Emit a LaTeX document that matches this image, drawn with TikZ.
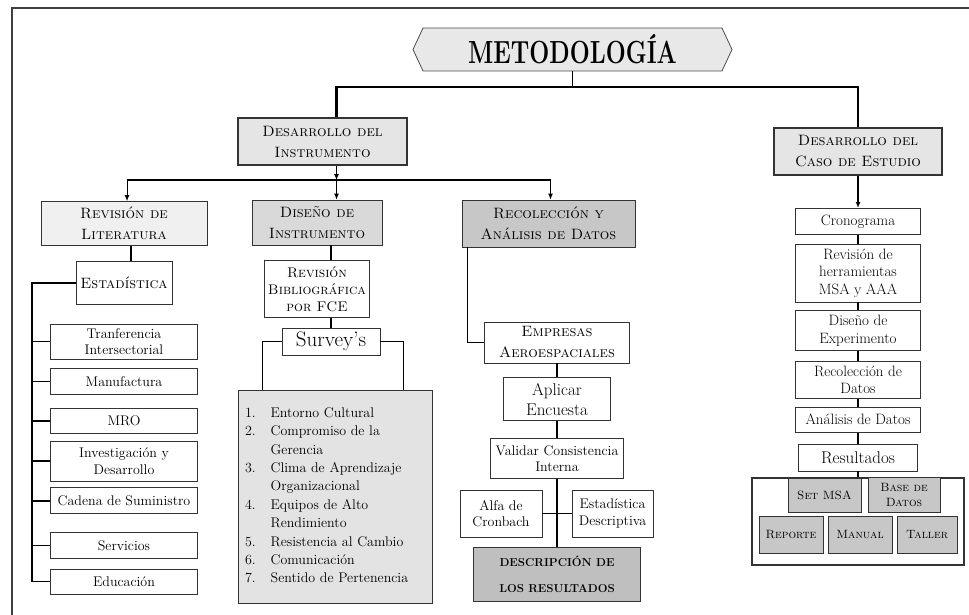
\documentclass[tikz,border=0pt]{standalone}
\usepackage{tikz}
\usetikzlibrary{arrows.meta}
\usetikzlibrary{positioning}
\usetikzlibrary{shapes.symbols}

\begin{document}
\begin{tikzpicture}[x=1pt,y=-1pt]
  \tikzset{node distance=10pt,
           basicbox/.style={draw=black!80,line width=0.7pt,fill=white,align=center,inner sep=1pt,
                            minimum width=#1,font=\fontsize{14}{16.5}\selectfont},
           stepbox/.style={basicbox=#1,font=\fontsize{15}{17.5}\selectfont},
           headbox/.style={basicbox=#1,font=\fontsize{15}{21}\selectfont\scshape},
           itembox/.style={basicbox=#1,fill=black!22,line width=0.9pt,minimum height=35pt,
                           font=\fontsize{12}{15}\selectfont\scshape},
           trunk/.style={line width=2.4pt},
           link/.style={line width=1.6pt},
           usedby/.style={-{Latex[length=6pt,width=5pt]},line width=1pt}}
  \useasboundingbox (0,0) rectangle (969,615);
  \draw[line width=1.6pt,black!75] (969,8) -- (12,8) -- (12,615);

  \node[signal,signal to=west and east,signal pointer angle=130,draw=black!70,line width=0.8pt,
        fill=black!9,minimum width=319pt,minimum height=43pt,inner sep=0pt] (title) at (572.5,49.5)
        {\scalebox{0.74}[1]{\fontsize{32}{32}\selectfont\bfseries METODOLOGÍA}};

  \node[headbox=169pt,fill=black!10,line width=1.4pt,minimum height=47pt] (di) at (322.5,141.5) {Desarrollo del\\Instrumento};
  \node[headbox=168pt,fill=black!10,line width=2pt,minimum height=47pt] (dc) at (858,151.5) {Desarrollo del\\Caso de Estudio};

  % primera rama
  \node[headbox=166pt,fill=black!6,minimum height=44pt] (revlit) at (124,223.5) {Revisión de\\Literatura};
  \node[headbox=130pt,fill=black!15,minimum height=45pt] (diseno) at (317,222.5) {Diseño de\\Instrumento};
  \node[headbox=173pt,fill=black!22,minimum height=47pt] (recol) at (548.5,223.5) {Recolección y\\Análisis de Datos};

  \node[headbox=96pt,minimum height=43pt,below=15pt of revlit,inner xsep=4pt] (stat) {Estadística};
  \node[basicbox=147pt,minimum height=35pt,below=19pt of stat] (tran) {Tranferencia\\Intersectorial};
  \node[basicbox=147pt,minimum height=26pt,below=9pt of tran] (manu) {Manufactura};
  \node[basicbox=147pt,minimum height=25pt,below=13pt of manu] (mro) {MRO};
  \node[basicbox=147pt,minimum height=40pt,below=7pt of mro] (invd) {Investigación y\\Desarrollo};
  \node[basicbox=147pt,minimum height=26pt,below=6pt of invd] (cade) {Cadena de Suministro};
  \node[basicbox=147pt,minimum height=26pt,below=18pt of cade] (serv) {Servicios};
  \node[basicbox=147pt,minimum height=25pt,below=10pt of serv] (edu) {Educación};

  \node[headbox=105pt,minimum height=57pt,below=15pt of diseno,font=\fontsize{14}{17}\selectfont\scshape] (revbib) {Revisión\\Bibliográfica\\por FCE};
  \node[basicbox=98pt,minimum height=27pt,font=\fontsize{21}{23}\selectfont] (survey) at (331,341.5) {Survey’s};
  \node[basicbox=194pt,fill=black!11,minimum height=213pt,text width=180pt,inner xsep=7pt,align=left,
        font=\fontsize{14}{18.4}\selectfont] (list) at (335,496.5) {%
    \begin{tabular}{@{}l@{\hspace{15pt}}l@{}}
      1. & Entorno Cultural\\
      2. & Compromiso de la\\
         & Gerencia\\
      3. & Clima de Aprendizaje\\
         & Organizacional\\
      4. & Equipos de Alto\\
         & Rendimiento\\
      5. & Resistencia al Cambio\\
      6. & Comunicación\\
      7. & Sentido de Pertenencia
    \end{tabular}};

  \node[headbox=145pt,minimum height=41pt] (empresas) at (557,342.5) {Empresas\\Aeroespaciales};
  \node[basicbox=107pt,minimum height=43pt,below=14pt of empresas,font=\fontsize{17}{20}\selectfont] (aplicar) {Aplicar\\Encuesta};
  \node[basicbox=133pt,minimum height=40pt,below=17pt of aplicar] (validar) {Validar Consistencia\\Interna};
  \node[basicbox=82pt,minimum height=47pt] (alfa) at (501,513.5) {Alfa de\\Cronbach};
  \node[basicbox=81pt,minimum height=47pt] (estdesc) at (612.5,513.5) {Estadística\\Descriptiva};
  \node[basicbox=167pt,fill=black!25,minimum height=54pt,below=68pt of validar,
        font=\fontsize{11.5}{26}\selectfont\bfseries] (desc) {DESCRIPCIÓN DE\\LOS RESULTADOS};

  % segunda rama
  \node[stepbox=125pt,minimum height=26pt,below=32pt of dc] (crono) {Cronograma};
  \node[stepbox=125pt,minimum height=58pt,below=9pt of crono] (herr) {Revisión de\\herramientas\\MSA y AAA};
  \node[stepbox=125pt,minimum height=40pt,below=8pt of herr] (dexp) {Diseño de\\Experimento};
  \node[stepbox=125pt,minimum height=37pt,below=10pt of dexp] (recd) {Recolección de\\Datos};
  \node[stepbox=125pt,minimum height=25pt,below=8pt of recd] (anal) {Análisis de Datos};
  \node[basicbox=119pt,minimum height=27pt,below=11pt of anal,font=\fontsize{17}{19}\selectfont] (resul) {Resultados};
  \node[basicbox=212pt,line width=2pt,minimum height=87pt,below=6pt of resul] (cont) {};
  \node[itembox=73pt,minimum height=34pt] (setmsa) at (824.5,495) {Set MSA};
  \node[itembox=72pt] (bdatos) at (904,494.5) {Base de\\Datos};
  \node[itembox=64pt,minimum height=37pt] (reporte) at (791,534.5) {Reporte};
  \node[itembox=64pt,minimum height=37pt] (manual) at (860,534.5) {Manual};
  \node[itembox=60pt,minimum height=37pt] (taller) at (927,534.5) {Taller};

  % conectores
  \coordinate (bar) at (0,87);
  \coordinate (split) at (0,180);
  \coordinate (spine) at (32,0);
  \draw[line width=0.9pt] (title.south) -- (title.south |- bar);
  \draw[trunk] ([xshift=14pt]di.north) |- (dc.north |- bar) -- (dc.north);
  \draw[usedby] ([xshift=14pt]di.south) -- ([xshift=14pt]di.south |- split);
  \draw[trunk] ([xshift=3pt]revlit.north |- split) -- ([xshift=2pt]recol.north |- split);
  \draw[usedby] ([xshift=3pt]revlit.north |- split) -- ([xshift=3pt]revlit.north);
  \draw[usedby] ([xshift=14pt]di.south |- split) -- ([xshift=14pt]di.south |- diseno.north);
  \draw[usedby] ([xshift=2pt]recol.north |- split) -- ([xshift=2pt]recol.north);

  \draw[link] ([xshift=7pt]revlit.south) -- ([xshift=7pt]stat.north);
  \draw[link] (stat.west) -- (stat.west -| spine) -- (edu.west -| spine) -- (edu.west);
  \foreach \n in {tran,manu,mro,invd,cade,serv}
    \draw[link] (\n.west -| spine) -- (\n.west);

  \draw[link] (diseno.south -| survey.north) -- (revbib.north -| survey.north);
  \draw[link] (revbib.south -| survey.north) -- (survey.north);
  \draw[link] (survey.west) -| ([xshift=25pt]list.north west);
  \draw[link] (survey.east) -| ([xshift=-29pt]list.north east);

  \draw[link] ([xshift=6pt]recol.south west) |- (empresas.west);
  \draw[link] (empresas.south) -- (aplicar.north);
  \draw[link] (aplicar.south) -- (validar.north);
  \draw[link] (validar.south) -- (desc.north);
  \draw[link] (alfa.east) -- (estdesc.west);

  \draw[usedby,line width=1.6pt] (dc.south) -- (crono.north);
  \foreach \a/\b in {crono/herr,herr/dexp,dexp/recd,recd/anal,anal/resul,resul/cont}
    \draw[line width=1.2pt] (\a.south) -- (\b.north);
\end{tikzpicture}
\end{document}
